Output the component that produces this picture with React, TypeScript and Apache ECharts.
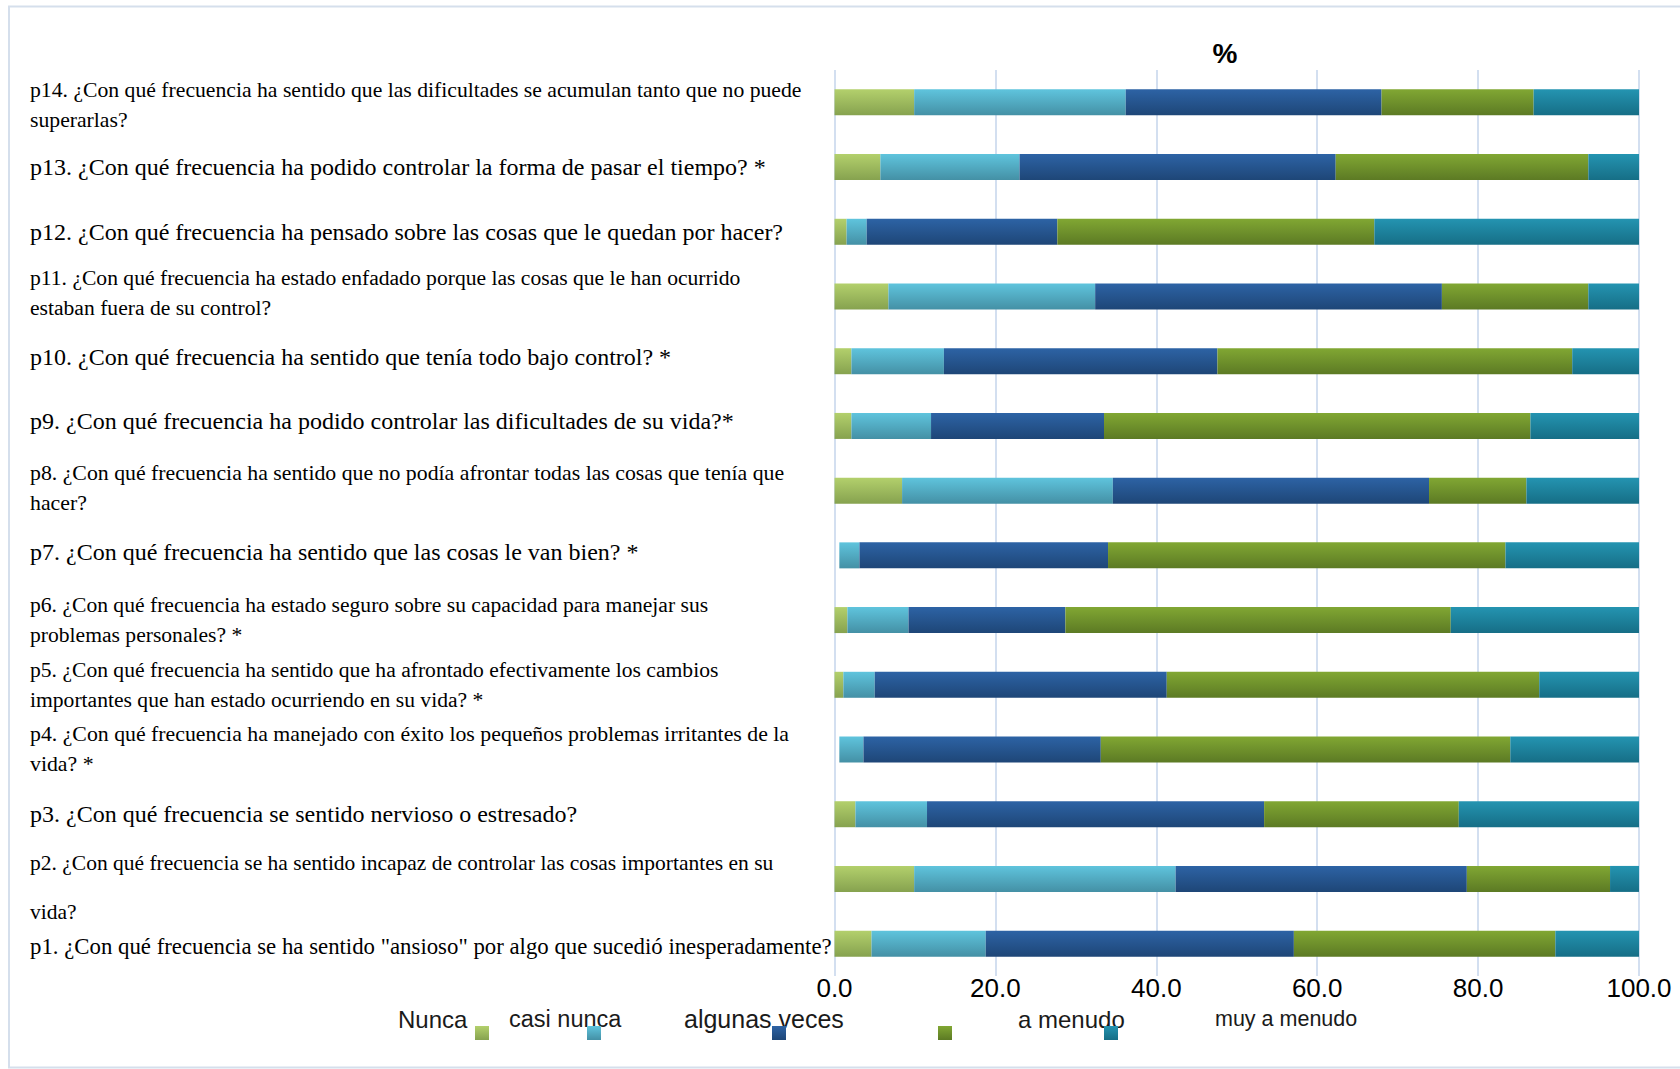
import React, { useEffect, useRef } from "react";
import * as echarts from "echarts";

// Categories, bottom (p1) to top (p14)
const categories = [
  "p1. ¿Con qué frecuencia se ha sentido \"ansioso\" por algo que sucedió inesperadamente?",
  "p2. ¿Con qué frecuencia se ha sentido incapaz de controlar las cosas importantes en su\nvida?",
  "p3. ¿Con qué frecuencia se sentido nervioso o estresado?",
  "p4. ¿Con qué frecuencia ha manejado con éxito los pequeños problemas irritantes de la\nvida? *",
  "p5. ¿Con qué frecuencia ha sentido que ha afrontado efectivamente los cambios\nimportantes que han estado ocurriendo en su vida? *",
  "p6. ¿Con qué frecuencia ha estado seguro sobre su capacidad para manejar sus\nproblemas personales? *",
  "p7. ¿Con qué frecuencia ha sentido que las cosas le van bien? *",
  "p8. ¿Con qué frecuencia ha sentido que no podía afrontar todas las cosas que tenía que\nhacer?",
  "p9. ¿Con qué frecuencia ha podido controlar las dificultades de su vida?*",
  "p10. ¿Con qué frecuencia ha sentido que tenía todo bajo control? *",
  "p11. ¿Con qué frecuencia ha estado enfadado porque las cosas que le han ocurrido\nestaban fuera de su control?",
  "p12. ¿Con qué frecuencia ha pensado sobre las cosas que le quedan por hacer?",
  "p13. ¿Con qué frecuencia ha podido controlar la forma de pasar el tiempo? *",
  "p14. ¿Con qué frecuencia ha sentido que las dificultades se acumulan tanto que no puede\nsuperarlas?",
];

const seriesNames = ["Nunca", "casi nunca", "algunas veces", "a menudo", "muy a menudo"];

const nunca = [4.6, 9.9, 2.6, 0.6, 1.1, 1.6, 0.6, 8.4, 2.1, 2.1, 6.7, 1.5, 5.7, 9.9];
const casiNunca = [14.2, 32.5, 8.9, 3.0, 3.9, 7.6, 2.5, 26.2, 9.9, 11.5, 25.7, 2.5, 17.3, 26.3];
const algunasVeces = [38.3, 36.2, 41.9, 29.5, 36.3, 19.5, 30.9, 39.3, 21.5, 34.0, 43.1, 23.7, 39.3, 31.8];
const aMenudo = [32.5, 17.8, 24.2, 50.9, 46.3, 47.9, 49.4, 12.1, 53.0, 44.1, 18.2, 39.4, 31.4, 18.9];
const muyAMenudo = [10.4, 3.6, 22.4, 16.0, 12.4, 23.4, 16.6, 14.0, 13.5, 8.3, 6.3, 32.9, 6.3, 13.1];

// "Nunca" values shown without fill in the reference (p4, p7)
const unfilledNunca = [3, 6];

const xTicks = { min: 0, max: 100, interval: 20 };

const SERIF = "'Liberation Serif', 'Times New Roman', serif";
const SANS = "'Liberation Sans Narrow', 'Arial Narrow', 'Liberation Sans', sans-serif";

// font size per category label (p1..p14)
const labelSizes = [22.8, 21.5, 24, 21.8, 21.6, 21.6, 24, 21.8, 24, 24, 21.6, 24, 24, 21.7];
// small vertical nudges per category label (p1..p14)
const labelShift = [3, 0, 0, -1, 0, 0, -3, -3, -5, -4, -4, 0, 0, 3];

const grad = (top: string, bottom: string) =>
  new echarts.graphic.LinearGradient(0, 0, 0, 1, [
    { offset: 0, color: top },
    { offset: 1, color: bottom },
  ]);

const palette = [
  grad("#b3d06c", "#86a24f"),
  grad("#5fc4dd", "#4490a5"),
  grad("#2d63a5", "#1e4677"),
  grad("#81a733", "#5c7a24"),
  grad("#2494b1", "#166e86"),
];

const legendTextLeft = [398, 509, 684, 1018, 1215];
const legendMarkLeft = [475, 587, 772, 938, 1104];
const legendFontSizes = [24, 23.5, 25, 24, 21.5];

export default function App() {
  const ref = useRef<HTMLDivElement>(null);
  useEffect(() => {
    const chart = echarts.init(ref.current!, null, { renderer: "svg" });

    const rich: Record<string, any> = {};
    labelSizes.forEach((fs, i) => {
      rich["s" + i] = {
        fontFamily: SERIF,
        fontSize: fs,
        lineHeight: 30,
        color: "#000",
        padding: labelShift[i] > 0 ? [labelShift[i] * 2, 0, 0, 0] : [0, 0, -labelShift[i] * 2, 0],
      };
    });
    rich["p2a"] = { fontFamily: SERIF, fontSize: labelSizes[1], lineHeight: 67, color: "#000" };
    rich["p2b"] = { fontFamily: SERIF, fontSize: labelSizes[1], lineHeight: 31, color: "#000" };

    const values = [nunca, casiNunca, algunasVeces, aMenudo, muyAMenudo];

    const series = seriesNames.map((name, si) => ({
      name,
      type: "bar",
      stack: "total",
      barWidth: 26,
      itemStyle: { color: palette[si] },
      data: values[si].map((v, i) =>
        si === 0 && unfilledNunca.includes(i)
          ? { value: v, itemStyle: { color: "rgba(0,0,0,0)" } }
          : v
      ),
    }));

    const legends: any[] = [];
    seriesNames.forEach((name, i) => {
      legends.push({
        data: [name],
        left: legendTextLeft[i] - 5,
        top: 1005,
        icon: "none",
        itemWidth: 0,
        itemHeight: 28,
        padding: 0,
        selectedMode: false,
        textStyle: { fontSize: legendFontSizes[i], fontFamily: SANS, color: "#1a1a1a" },
      });
      legends.push({
        data: [name],
        left: legendMarkLeft[i],
        top: 1026,
        icon: "rect",
        itemWidth: 14,
        itemHeight: 14,
        padding: 0,
        selectedMode: false,
        formatter: () => "",
      });
    });

    chart.setOption({
      animation: false,
      backgroundColor: "#fff",
      title: {
        text: "%",
        left: 1225,
        top: 39,
        textAlign: "center",
        padding: 0,
        textStyle: { fontSize: 28, fontWeight: "bold", fontFamily: SANS, color: "#000" },
      },
      graphic: [
        {
          type: "rect",
          silent: true,
          shape: { x: 9, y: 6.5, width: 1700, height: 1061 },
          style: { fill: "none", stroke: "#d5dfec", lineWidth: 2 },
        },
      ],
      legend: legends,
      grid: { left: 834.5, right: 41, top: 70, bottom: 93, containLabel: false },
      xAxis: {
        type: "value",
        min: xTicks.min,
        max: xTicks.max,
        interval: xTicks.interval,
        axisLine: { show: false },
        axisTick: { show: false },
        splitLine: { show: true, lineStyle: { color: "#d3dff0", width: 2 } },
        axisLabel: {
          fontSize: 26,
          fontFamily: SANS,
          color: "#000",
          margin: -1,
          formatter: (v: number) => v.toFixed(1),
        },
      },
      yAxis: {
        type: "category",
        data: categories,
        axisLine: { show: false },
        axisTick: { show: false },
        splitLine: { show: false },
        axisLabel: {
          align: "left",
          margin: 804.5,
          interval: 0,
          rich,
          formatter: (value: string, index: number) => {
            const lines = value.split("\n");
            if (index === 1) {
              return lines.map((l, li) => `{${li === 0 ? "p2a" : "p2b"}|${l}}`).join("\n");
            }
            return lines.map((l) => `{s${index}|${l}}`).join("\n");
          },
        },
      },
      series,
    });
    return () => chart.dispose();
  }, []);
  return (
    <div
      ref={ref}
      style={{ position: "absolute", left: 0, top: 0, width: 1680, height: 1069, background: "#fff" }}
    />
  );
}
